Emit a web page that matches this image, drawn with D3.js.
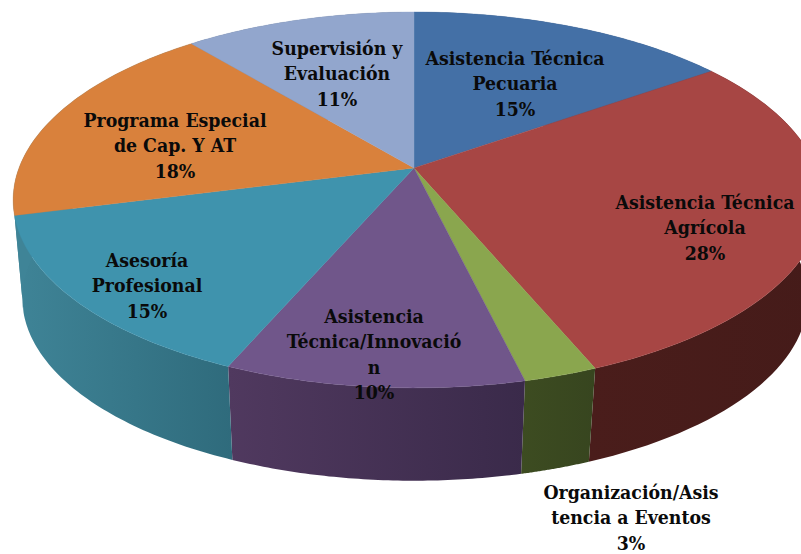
<!DOCTYPE html>
<html><head><meta charset="utf-8">
<script src="https://cdn.jsdelivr.net/npm/d3@7/dist/d3.min.js"></script>
<style>html,body{margin:0;padding:0;background:#fff}svg{display:block}</style>
</head><body><div id="c"></div>
<script>
const categories = ["Asistencia Técnica Pecuaria","Asistencia Técnica Agrícola","Organización/Asistencia a Eventos","Asistencia Técnica/Innovación","Asesoría Profesional","Programa Especial de Cap. Y AT","Supervisión y Evaluación"];
const values = [15.1,28.7,2.5,10.2,14.5,18.0,11.0];
const labelLines = [["Asistencia Técnica","Pecuaria","15%"],["Asistencia Técnica","Agrícola","28%"],["Organización/Asis","tencia a Eventos","3%"],["Asistencia","Técnica/Innovació","n","10%"],["Asesoría","Profesional","15%"],["Programa Especial","de Cap. Y AT","18%"],["Supervisión y","Evaluación","11%"]];
const labelCenters = [[515,65],[705,209],[631,499],[374,323],[147,267],[175,127],[337,55]];
const topColors = ["#4470a6","#a74644","#8aa64e","#70568a","#3f93ad","#d9813c","#92a6cd"];
const wallLeft = ["#2c4a6e","#4a1d1b","#3d4c21","#50395f","#3f8497","#3f8497","#5f6d87"];
const wallRight = ["#2c4a6e","#451b19","#37451f","#3a2a4a","#2f6b7c","#3f8497","#5f6d87"];

const W=801,H=554, cx=414, cy=168, k=0.17, Ar=402, Al=395, ArBottom=388, AlBottom=386, B=182.5, sBottom=0.972, depth=99;
const svg=d3.select("#c").append("svg").attr("width",W).attr("height",H).attr("viewBox",`0 0 ${W} ${H}`);
const defs=svg.append("defs");

function project(a,bottom){
  const u=Math.sin(a),v=Math.cos(a),w=1+k*v,s=bottom?sBottom:1;
  const A=bottom?(u<0?AlBottom:ArBottom):(u<0?Al:Ar);
  return [cx+A*u/w, cy+(bottom?depth:0)-s*B*v/w];
}
const pieGen=d3.pie().sort(null).value(d=>d);
const arcs=pieGen(values);
const ring=(a0,a1,bottom)=>d3.range(0,61).map(i=>project(a0+(a1-a0)*i/60,bottom));
const line=d3.line();

// walls
arcs.forEach((d,i)=>{
  const top=ring(d.startAngle,d.endAngle,false), bot=ring(d.startAngle,d.endAngle,true).reverse();
  const xs=top.concat(bot).map(p=>p[0]);
  const id="g"+i;
  const g=defs.append("linearGradient").attr("id",id).attr("gradientUnits","userSpaceOnUse")
    .attr("x1",d3.min(xs)).attr("x2",d3.max(xs)).attr("y1",0).attr("y2",0);
  g.append("stop").attr("offset",0).attr("stop-color",wallLeft[i]);
  g.append("stop").attr("offset",1).attr("stop-color",wallRight[i]);
  svg.append("path").attr("d",line(top.concat(bot))+"Z").attr("fill",`url(#${id})`);
});
// top faces
arcs.forEach((d,i)=>{
  const pts=[[cx,cy]].concat(ring(d.startAngle,d.endAngle,false));
  svg.append("path").attr("d",line(pts)+"Z").attr("fill",topColors[i]).attr("stroke",topColors[i]).attr("stroke-width",0.4);
});
// labels
labelLines.forEach((lines,i)=>{
  const t=svg.append("text").attr("text-anchor","middle")
    .attr("font-family","'DejaVu Serif'").attr("font-weight","bold").attr("font-stretch","condensed")
    .attr("font-size",19.3).attr("fill","#0a0a0a");
  lines.forEach((s,j)=>t.append("tspan").attr("x",labelCenters[i][0]).attr("y",labelCenters[i][1]+j*25.3).text(s));
});
</script></body></html>
